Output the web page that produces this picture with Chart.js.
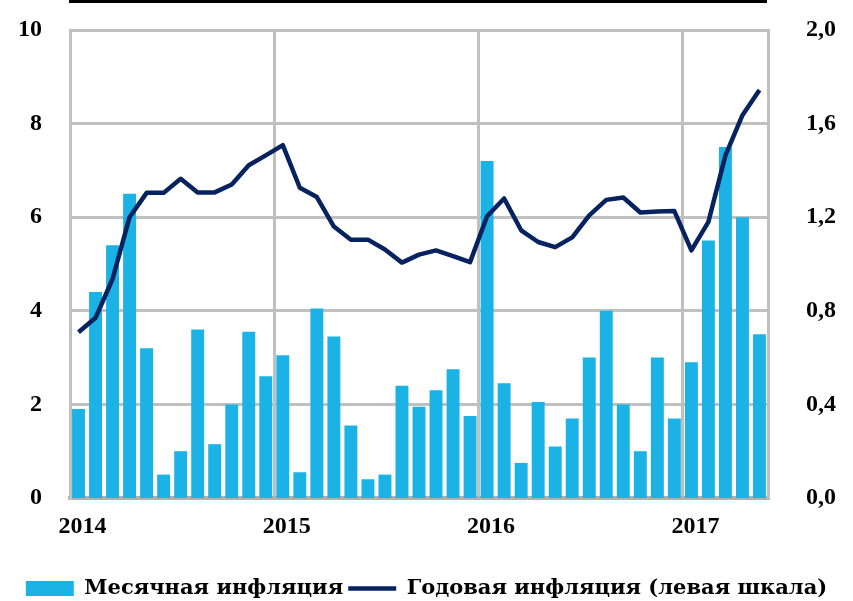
<!DOCTYPE html>
<html>
<head>
<meta charset="utf-8">
<script src="https://cdn.jsdelivr.net/npm/chart.js@4.4.1/dist/chart.umd.min.js"></script>
<style>
  html, body { margin: 0; padding: 0; background: #fff; }
  #wrap { width: 853px; height: 601px; }
</style>
</head>
<body>
<div id="wrap"><canvas id="chart"></canvas></div>
<script>
// months, Jan 2014 .. May 2017
var months = [
  '2014-01','2014-02','2014-03','2014-04','2014-05','2014-06','2014-07','2014-08','2014-09','2014-10','2014-11','2014-12',
  '2015-01','2015-02','2015-03','2015-04','2015-05','2015-06','2015-07','2015-08','2015-09','2015-10','2015-11','2015-12',
  '2016-01','2016-02','2016-03','2016-04','2016-05','2016-06','2016-07','2016-08','2016-09','2016-10','2016-11','2016-12',
  '2017-01','2017-02','2017-03','2017-04','2017-05'
];
var yearLabels = { '2014-01': '2014', '2015-01': '2015', '2016-01': '2016', '2017-01': '2017' };

// monthly inflation, right scale
var monthly = [
  0.38, 0.88, 1.08, 1.30, 0.64, 0.10, 0.20, 0.72, 0.23, 0.40, 0.71, 0.52,
  0.61, 0.11, 0.81, 0.69, 0.31, 0.08, 0.10, 0.48, 0.39, 0.46, 0.55, 0.35,
  1.44, 0.49, 0.15, 0.41, 0.22, 0.34, 0.60, 0.80, 0.40, 0.20, 0.60, 0.34,
  0.58, 1.10, 1.50, 1.20, 0.70
];
// annual inflation, left scale
var annual = [
  3.54, 3.85, 4.68, 6.00, 6.52, 6.52, 6.82, 6.53, 6.53, 6.70, 7.11, 7.32,
  7.54, 6.63, 6.43, 5.80, 5.52, 5.52, 5.31, 5.03, 5.20, 5.29, 5.17, 5.04,
  6.02, 6.40, 5.72, 5.47, 5.36, 5.57, 6.04, 6.37, 6.42, 6.10, 6.12, 6.13,
  5.29, 5.90, 7.32, 8.18, 8.72
];
var leftTicks = [0, 2, 4, 6, 8, 10];
var rightTicks = [0, 0.4, 0.8, 1.2, 1.6, 2.0];

var gridGrey = '#c0c0c0';
var tickFont = { family: 'Liberation Serif', size: 24, weight: 'bold' };

var topRule = {
  id: 'topRule',
  afterDraw: function(chart){
    var a = chart.chartArea, c = chart.ctx;
    c.save();
    c.fillStyle = '#000';
    c.fillRect(a.left - 1, 0, a.right - a.left, 3);
    c.restore();
  }
};

// fixed axis widths, and keep tick padding from pushing the plot down
function fitY(w){
  return function(s){ s.width = w; s.paddingTop = 0; s.paddingBottom = 0; };
}

new Chart(document.getElementById('chart'), {
  type: 'bar',
  data: {
    labels: months,
    datasets: [{
      label: 'Месячная инфляция',
      data: monthly,
      yAxisID: 'y1',
      backgroundColor: '#1bb3e6',
      categoryPercentage: 1,
      barPercentage: 0.76,
      pointStyle: 'rect',
      order: 1
    }, {
      type: 'line',
      label: 'Годовая инфляция (левая шкала)',
      data: annual,
      yAxisID: 'y',
      borderColor: '#06225f',
      backgroundColor: '#06225f',
      borderWidth: 4.5,
      pointRadius: 0,
      tension: 0,
      borderJoinStyle: 'round',
      pointStyle: 'line',
      order: 0
    }]
  },
  options: {
    responsive: true,
    maintainAspectRatio: false,
    animation: false,
    layout: { padding: { top: 30, bottom: -8, left: 0, right: 0 } },
    plugins: {
      tooltip: { enabled: false },
      legend: {
        position: 'bottom',
        reverse: true,
        labels: {
          usePointStyle: true,
          pointStyleWidth: 48,
          boxHeight: 15,
          padding: 5,
          color: '#000',
          font: { family: 'DejaVu Serif', size: 21, weight: 'bold' }
        }
      }
    },
    scales: {
      x: {
        afterFit: function(s){ s.height = 75; },
        grid: {
          offset: true,
          drawTicks: false,
          lineWidth: 3,
          color: function(ctx){ return ctx.index % 12 === 0 ? gridGrey : 'rgba(0,0,0,0)'; }
        },
        border: { display: true, color: '#b0b0b0', width: 4 },
        ticks: {
          autoSkip: false,
          maxRotation: 0,
          padding: 14,
          labelOffset: 4,
          color: '#000',
          font: tickFont,
          callback: function(v, i){ return yearLabels[months[i]] || ''; }
        }
      },
      y: {
        position: 'left',
        min: 0, max: 10,
        afterBuildTicks: function(s){ s.ticks = leftTicks.map(function(v){ return { value: v }; }); },
        afterFit: fitY(70),
        grid: { drawTicks: false, lineWidth: 3, color: gridGrey },
        border: { display: true, color: gridGrey, width: 3 },
        ticks: { padding: 28, color: '#000', font: tickFont }
      },
      y1: {
        position: 'right',
        min: 0, max: 2,
        afterBuildTicks: function(s){ s.ticks = rightTicks.map(function(v){ return { value: v }; }); },
        afterFit: fitY(85),
        grid: { display: false, drawOnChartArea: false },
        border: { display: true, color: gridGrey, width: 3 },
        ticks: {
          padding: 30, color: '#000', font: tickFont,
          callback: function(v){ return v.toFixed(1).replace('.', ','); }
        }
      }
    }
  },
  plugins: [topRule]
});
</script>
</body>
</html>
